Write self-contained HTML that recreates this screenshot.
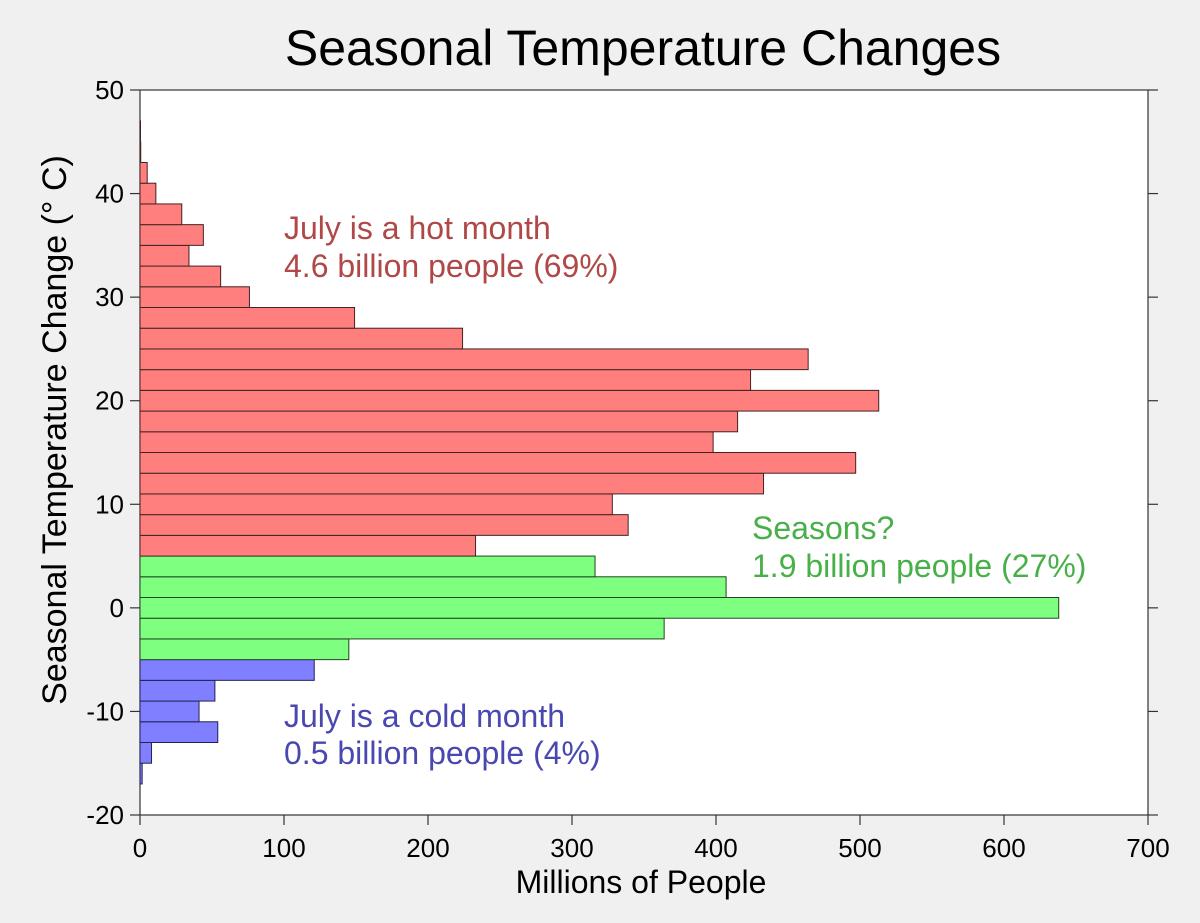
<!DOCTYPE html>
<html><head><meta charset="utf-8"><style>
body{margin:0;background:#f0f0f0;}
svg{display:block;font-family:"Liberation Sans",sans-serif;}
</style></head><body>
<svg id="c" width="1200" height="923">
<rect x="0" y="0" width="1200" height="923" fill="#f0f0f0"/>
<rect x="140" y="90" width="1008" height="725" fill="#fff" stroke="#333" stroke-width="1.2"/>
<text x="643" y="65" font-size="50" text-anchor="middle">Seasonal Temperature Changes</text>
<text x="641" y="893" font-size="32" text-anchor="middle">Millions of People</text>
<text transform="translate(66,430) rotate(-90)" font-size="34" text-anchor="middle">Seasonal Temperature Change (° C)</text>
<g id="bars"></g><g id="axes"></g>
<text x="284" y="239" font-size="32" fill="#b04848"><tspan x="284">July is a hot month</tspan><tspan x="284" dy="38">4.6 billion people (69%)</tspan></text>
<text x="752" y="539" font-size="32" fill="#48b048"><tspan x="752">Seasons?</tspan><tspan x="752" dy="38">1.9 billion people (27%)</tspan></text>
<text x="284" y="727" font-size="32" fill="#4848b0"><tspan x="284">July is a cold month</tspan><tspan x="284" dy="37">0.5 billion people (4%)</tspan></text>
</svg>
<script>
const binCenters=[-16,-14,-12,-10,-8,-6,-4,-2,0,2,4,6,8,10,12,14,16,18,20,22,24,26,28,30,32,34,36,38,40,42,44,46];
const people=[1.5,8,54,41,52,121,145,364,638,407,316,233,339,328,433,497,398,415,513,424,464,224,149,76,56,34,44,29,11,5,0.5,0.3];
const xTicks=[0,100,200,300,400,500,600,700];
const yTicks=[-20,-10,0,10,20,30,40,50];
const binWidth=2;
const X0=140,X1=1148,Y0=815,Y1=90;
const xs=v=>X0+(v-0)/(700-0)*(X1-X0);
const ys=v=>Y0-(v+20)/(70)*(Y0-Y1);
const NS="http://www.w3.org/2000/svg";
const bars=document.getElementById('bars'),axes=document.getElementById('axes');
binCenters.forEach((c,i)=>{
 const r=document.createElementNS(NS,'rect');
 const lo=c-binWidth/2,hi=c+binWidth/2;
 let fill,st;
 if(c<=-6){fill='#7f7fff';st='#222255';}else if(c<=4){fill='#7fff7f';st='#224422';}else{fill='#ff7f7f';st='#442222';}
 r.setAttribute('x',xs(0));r.setAttribute('y',ys(hi));
 r.setAttribute('width',Math.max(0.5,xs(people[i])-xs(0)));r.setAttribute('height',ys(lo)-ys(hi));
 r.setAttribute('fill',fill);r.setAttribute('stroke',st);r.setAttribute('stroke-width','1');
 
 
 bars.appendChild(r);
});
function line(x1,y1,x2,y2){const l=document.createElementNS(NS,'line');l.setAttribute('x1',x1);l.setAttribute('y1',y1);l.setAttribute('x2',x2);l.setAttribute('y2',y2);l.setAttribute('stroke','#333');l.setAttribute('stroke-width','1.2');axes.appendChild(l);return l;}
function txt(x,y,s,a){const t=document.createElementNS(NS,'text');t.setAttribute('x',x);t.setAttribute('y',y);t.setAttribute('font-size','26');t.setAttribute('text-anchor',a);t.textContent=s;axes.appendChild(t);return t;}
xTicks.forEach(v=>{const x=xs(v);line(x,Y0,x,Y0+10);
 const t=txt(x,Y0+42,v,'middle');
 
 });
yTicks.forEach(v=>{const y=ys(v);line(X0-10,y,X0,y);line(X1,y,X1+10,y);
 const t=txt(X0-16,y+9,v,'end');
 
 });
</script>
</body></html>
